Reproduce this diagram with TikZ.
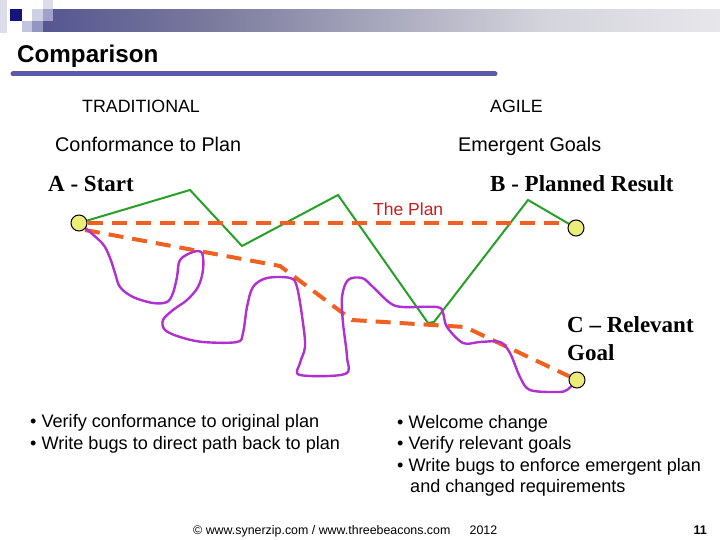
\documentclass[tikz,border=0pt]{standalone}
\usepackage{fontspec}
\setmainfont{Liberation Sans}
\newfontfamily\timesfont{Liberation Serif}
\usetikzlibrary{backgrounds}
\definecolor{navy}{HTML}{14147A}
\definecolor{rulecol}{HTML}{5A5AAA}
\definecolor{greenpath}{HTML}{26A026}
\definecolor{orangeplan}{HTML}{F06020}
\definecolor{purplepath}{HTML}{B030D0}
\definecolor{planred}{HTML}{C42020}
\definecolor{dotfill}{HTML}{ECEC78}
\definecolor{barmid}{HTML}{7C7C9E}
\definecolor{barlight}{HTML}{D4D4DC}
\pgfdeclarehorizontalshading{barshade}{100bp}{color(0bp)=(navy); color(8bp)=(navy!85!barmid); color(38bp)=(barmid); color(62bp)=(barlight); color(92bp)=(white); color(100bp)=(white)}
\tikzset{
  hdr/.style={anchor=base west, inner sep=0, font=\fontsize{17.8}{20}\selectfont},
  subhdr/.style={anchor=base west, inner sep=0, font=\fontsize{19.8}{22}\selectfont},
  ptlabel/.style={anchor=base west, inner sep=0, font=\timesfont\bfseries\fontsize{23}{27}\selectfont},
  bullet/.style={anchor=base west, inner sep=0, font=\fontsize{18.1}{21}\selectfont},
  dot/.style={circle, draw=black, line width=1pt, fill=dotfill, minimum size=16pt, inner sep=0},
  greenline/.style={draw=greenpath, line width=2pt, line join=miter},
  planline/.style={draw=orangeplan, line width=4pt, dash pattern=on 15pt off 9pt},
  squiggle/.style={draw=purplepath, line width=2.4pt, line cap=round, line join=round}
}
\begin{document}
\begin{tikzpicture}[x=1pt,y=-1pt]
\useasboundingbox (0,0) rectangle (720,540);
% header bar and logo squares
\shade[shading=barshade] (43,10) rectangle (720,32);
\fill[navy!15] (0,0) rectangle (7,33);
\fill[navy] (10,9) rectangle (22,21);
\fill[navy!25] (22,21) rectangle (32,32);
\fill[navy!20] (32,9) rectangle (43,21);
\fill[navy!45] (32,21) rectangle (43,32);
\fill[navy!15] (43,0) rectangle (53,9);
\fill[navy!40] (43,9) rectangle (53,21);
\node[anchor=base west, inner sep=0, font=\bfseries\fontsize{24.2}{26}\selectfont] (title) at (17,63) {Comparison};
\draw[rulecol, line width=5pt, line cap=round] (13,74) -- (495,74);
% headings
\node[hdr] (trad) at (82,113) {TRADITIONAL};
\node[hdr] (agile) at (490,113) {AGILE};
\node[subhdr] (conf) at (55,152) {Conformance to Plan};
\node[subhdr] (emer) at (458,152) {Emergent Goals};
\node[ptlabel] (alab) at (48,192) {A - Start};
\node[ptlabel] (blab) at (490,192) {B - Planned Result};
\node[ptlabel] (clab1) at (567,332) {C \textendash\ Relevant};
\node[ptlabel] (clab2) at (567,360) {Goal};
\node[anchor=base west, inner sep=0, text=planred, font=\fontsize{17.5}{20}\selectfont] (plan) at (373,215) {The Plan};
% points
\node[dot] (A) at (79,223) {};
\node[dot] (B) at (576,228) {};
\node[dot] (C) at (577,380) {};
\begin{scope}[on background layer]
\fill[white] (0,0) rectangle (720,540);
\draw[greenline] (A) -- (190,190) -- (242,246) -- (338,195) -- (428,323) -- (434,322) -- (528,200) -- (B);
\draw[planline] (A.east) -- (B.west |- A);
\draw[planline] (85,230) -- (280,266) -- (352,320) -- (400,323) -- (465,327) -- (C);
\draw[squiggle] plot[smooth, tension=0.55] coordinates {
(A) (102,243) (110,258) (115,273) (120,287) (133,297) (153,303) (167,302) (173,293)
(177,277) (180,260) (193,252) (202,253) (203,270) (198,287) (187,300) (173,310)
(163,320) (165,330) (180,337) (203,342) (237,342) (243,333) (247,307) (253,287)
(267,278) (290,278) (297,287) (303,323) (305,347) (300,363) (300,375) (345,374)
(347,357) (343,323) (342,297) (348,280) (362,278) (373,287) (390,303) (403,307)
(437,307) (443,313) (447,327) (463,343) (480,342) (500,342) (510,353) (520,377)
(530,390) (557,392) (567,390) (C)};
\end{scope}
% bullets
\node[bullet] (l1) at (30,427) {\textbullet\ Verify conformance to original plan};
\node[bullet] (l2) at (30,449) {\textbullet\ Write bugs to direct path back to plan};
\node[bullet] (r1) at (397,428) {\textbullet\ Welcome change};
\node[bullet] (r2) at (397,449) {\textbullet\ Verify relevant goals};
\node[bullet] (r3) at (397,471) {\textbullet\ Write bugs to enforce emergent plan};
\node[bullet] (r4) at (410,492) {and changed requirements};
% footer
\node[anchor=base west, inner sep=0, font=\fontsize{12.4}{14}\selectfont] (foot) at (193,534) {\copyright\ www.synerzip.com / www.threebeacons.com \quad\ 2012};
\node[anchor=base east, inner sep=0, font=\bfseries\fontsize{12.5}{14}\selectfont] (pg) at (707,534) {11};
\end{tikzpicture}
\end{document}
